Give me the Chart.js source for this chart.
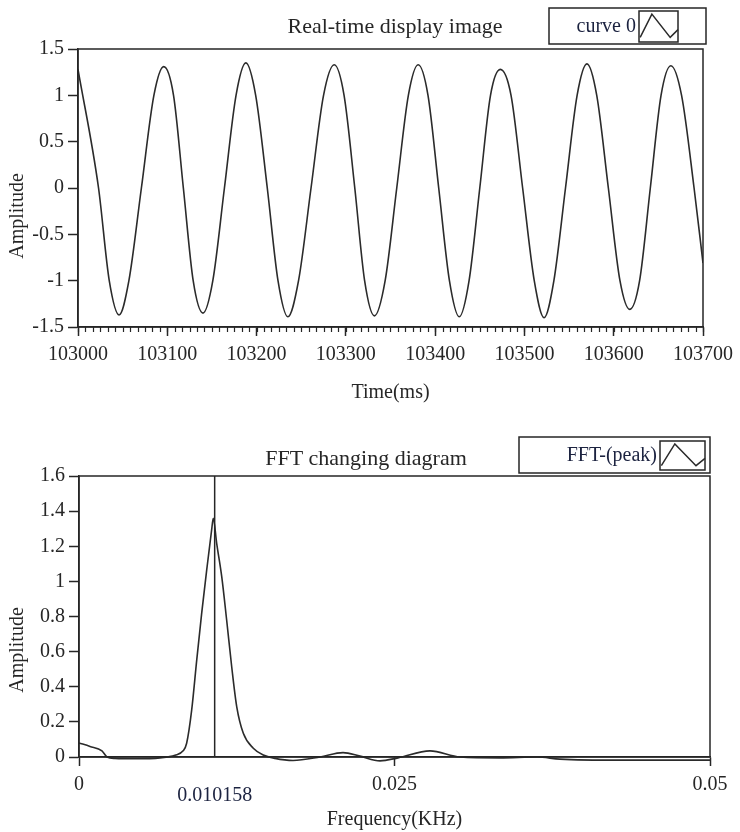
<!DOCTYPE html>
<html>
<head>
<meta charset="utf-8">
<script src="https://cdn.jsdelivr.net/npm/chart.js@4.4.0/dist/chart.umd.min.js"></script>
<style>
  html, body { margin: 0; padding: 0; background: #fff; }
  .box { position: absolute; left: 0; width: 740px; }
  #wave-box { top: 0; height: 420px; }
  #fft-box { top: 420px; height: 412px; }
</style>
</head>
<body>
<div class="box" id="wave-box"><canvas id="waveChart" width="740" height="420"></canvas></div>
<div class="box" id="fft-box"><canvas id="fftChart" width="740" height="412"></canvas></div>
<script>
// Real-time signal (extremes, +-1 crossings, zero crossings)
const waveTime = [103000, 103023, 103035, 103046, 103057, 103071, 103085, 103096, 103107,
    103118, 103129, 103140, 103151, 103164, 103177, 103188, 103199, 103212, 103224,
    103235, 103247, 103261, 103275, 103287, 103298, 103310, 103321, 103332, 103344,
    103357, 103370, 103381, 103392, 103404, 103416, 103427, 103438, 103450, 103462,
    103473, 103485, 103498, 103511, 103522, 103533, 103546, 103559, 103570, 103581,
    103594, 103607, 103618, 103629, 103641, 103653, 103664, 103676, 103690, 103700];
const waveAmp = [1.28, 0, -1.0, -1.37, -1.0, 0, 1.0, 1.31, 1.0,
    0, -1.0, -1.35, -1.0, 0, 1.0, 1.35, 1.0, 0, -1.0,
    -1.39, -1.0, 0, 1.0, 1.33, 1.0, 0, -1.0, -1.38, -1.0,
    0, 1.0, 1.33, 1.0, 0, -1.0, -1.39, -1.0, 0, 1.0,
    1.28, 1.0, 0, -1.0, -1.40, -1.0, 0, 1.0, 1.34, 1.0,
    0, -1.0, -1.31, -1.0, 0, 1.0, 1.32, 1.0, 0, -0.81];
const waveXTicks = [103000, 103100, 103200, 103300, 103400, 103500, 103600, 103700];
const waveYTicks = [-1.5, -1, -0.5, 0, 0.5, 1, 1.5];

// FFT spectrum
const fftFreq = [0, 0.00087, 0.00182, 0.00222, 0.00285, 0.00444, 0.00642, 0.00761, 0.00825,
    0.00853, 0.00893, 0.00933, 0.00972, 0.01012, 0.01051, 0.01064, 0.01091, 0.01131,
    0.0117, 0.0121, 0.0125, 0.01302, 0.01381, 0.0146, 0.01553, 0.01696, 0.0191,
    0.02092, 0.02227, 0.02385, 0.02528, 0.02781, 0.03019, 0.03336, 0.03629, 0.03811,
    0.04287, 0.05];
const fftAmp = [0.08, 0.06, 0.035, 0, -0.008, -0.01, -0.005, 0.01, 0.035,
    0.078, 0.268, 0.553, 0.818, 1.065, 1.293, 1.359, 1.217, 1.027,
    0.78, 0.514, 0.286, 0.135, 0.05, 0.011, -0.008, -0.02, 0,
    0.025, 0.005, -0.022, -0.005, 0.035, 0, -0.005, 0, -0.012,
    -0.018, -0.018];
const fftXTicks = [0, 0.025, 0.05];
const fftYTicks = [0, 0.2, 0.4, 0.6, 0.8, 1, 1.2, 1.4, 1.6];
const peakFreq = 0.01075;
const peakLabel = '0.010158';

const ink = '#262626';
const serif = '"Liberation Serif", "DejaVu Serif", serif';
Chart.defaults.font.family = serif;
Chart.defaults.font.size = 20;
Chart.defaults.color = ink;

// frame, titles, legend box, minor ticks and peak marker
const decor = {
    id: 'decor',
    afterDraw(chart, args, o) {
        const ctx = chart.ctx;
        const a = chart.chartArea;
        const ds = chart.data.datasets[0];
        ctx.save();
        ctx.strokeStyle = ink;
        ctx.lineWidth = 1.5;
        ctx.strokeRect(a.left, a.top, a.right - a.left, a.bottom - a.top);

        ctx.fillStyle = ink;
        ctx.textAlign = 'center';
        ctx.textBaseline = 'middle';
        ctx.font = '22px ' + serif;
        ctx.fillText(o.title, o.titleX, o.titleY);

        ctx.font = '20px ' + serif;
        ctx.save();
        ctx.translate(o.yTitleX, o.yTitleY);
        ctx.rotate(-Math.PI / 2);
        ctx.fillText('Amplitude', 0, 0);
        ctx.restore();

        // legend
        const L = o.legend;
        ctx.strokeRect(L.x, L.y, L.w, L.h);
        ctx.strokeRect(L.ix, L.iy, L.iw, L.ih);
        ctx.beginPath();
        [[0.03, 0.85], [0.33, 0.1], [0.8, 0.85], [1, 0.6]].forEach(function(p, i) {
            const px = L.ix + p[0] * L.iw, py = L.iy + p[1] * L.ih;
            if (i === 0) ctx.moveTo(px, py); else ctx.lineTo(px, py);
        });
        ctx.strokeStyle = ds.borderColor;
        ctx.stroke();
        ctx.fillStyle = '#1c2340';
        ctx.textAlign = 'right';
        ctx.fillText(ds.label, L.ix - 3, L.y + L.h / 2 + 1);

        const x = chart.scales.x;
        ctx.strokeStyle = ink;
        if (o.minorStep) {
            ctx.lineWidth = 1.2;
            ctx.beginPath();
            for (let v = x.min; v <= x.max + 0.001; v += o.minorStep) {
                const px = Math.round(x.getPixelForValue(v)) + 0.5;
                ctx.moveTo(px, a.bottom);
                ctx.lineTo(px, a.bottom + 5);
            }
            ctx.stroke();
        }
        if (o.marker !== undefined) {
            const px = x.getPixelForValue(o.marker);
            ctx.lineWidth = 1.5;
            ctx.beginPath();
            ctx.moveTo(px, a.top);
            ctx.lineTo(px, a.bottom);
            ctx.stroke();
            ctx.fillStyle = '#1c2340';
            ctx.textAlign = 'center';
            ctx.fillText(o.markerLabel, px, o.markerY);
        }
        ctx.restore();
    }
};

function axisX(min, max, tickValues, title, height, titlePad) {
    return {
        type: 'linear', min: min, max: max,
        afterBuildTicks: function(s) { s.ticks = tickValues.map(v => ({ value: v })); },
        afterFit: function(s) { s.height = height; },
        ticks: { padding: 7, maxRotation: 0, autoSkip: false, callback: v => String(v) },
        grid: { drawOnChartArea: false, tickLength: 9, tickColor: ink, tickWidth: 1.5 },
        border: { color: ink, width: 1.5 },
        title: { display: true, text: title, padding: { top: 0, bottom: titlePad } }
    };
}

function axisY(min, max, tickValues, width) {
    return {
        min: min, max: max,
        afterBuildTicks: function(s) { s.ticks = tickValues.map(v => ({ value: v })); },
        afterFit: function(s) { s.width = width; },
        ticks: { padding: 4, callback: v => String(v) },
        grid: { drawOnChartArea: false, tickLength: 10, tickColor: ink, tickWidth: 1.5 },
        border: { color: ink, width: 1.5 }
    };
}

new Chart(document.getElementById('waveChart'), {
    type: 'line',
    data: {
        datasets: [{
            label: 'curve 0',
            data: waveTime.map((t, i) => ({ x: t, y: waveAmp[i] })),
            borderColor: '#2b2b2b',
            borderWidth: 1.6,
            pointRadius: 0,
            cubicInterpolationMode: 'monotone',
            fill: false
        }]
    },
    options: {
        responsive: false,
        animation: false,
        layout: { padding: { top: 49, right: 34, bottom: 0, left: 0 } },
        plugins: {
            legend: { display: false },
            tooltip: { enabled: false },
            decor: {
                title: 'Real-time display image', titleX: 395, titleY: 27,
                yTitleX: 18, yTitleY: 216,
                legend: { x: 549, y: 8, w: 157, h: 36, ix: 639, iy: 11, iw: 39, ih: 31 },
                minorStep: 100 / 12
            }
        },
        scales: {
            x: axisX(103000, 103700, waveXTicks, 'Time(ms)', 93, 15),
            y: axisY(-1.5, 1.5, waveYTicks, 78)
        }
    },
    plugins: [decor]
});

new Chart(document.getElementById('fftChart'), {
    type: 'line',
    data: {
        datasets: [{
            label: 'FFT-(peak)',
            data: fftFreq.map((f, i) => ({ x: f, y: fftAmp[i] })),
            borderColor: '#2b2b2b',
            borderWidth: 1.6,
            pointRadius: 0,
            cubicInterpolationMode: 'monotone',
            fill: false,
            clip: false
        }]
    },
    options: {
        responsive: false,
        animation: false,
        layout: { padding: { top: 56, right: 30, bottom: 0, left: 0 } },
        plugins: {
            legend: { display: false },
            tooltip: { enabled: false },
            decor: {
                title: 'FFT changing diagram', titleX: 366, titleY: 39,
                yTitleX: 18, yTitleY: 230,
                legend: { x: 519, y: 17, w: 191, h: 36, ix: 660, iy: 21, iw: 45, ih: 29 },
                marker: peakFreq, markerLabel: peakLabel, markerY: 376
            }
        },
        scales: {
            x: axisX(0, 0.05, fftXTicks, 'Frequency(KHz)', 75, 0),
            y: axisY(0, 1.6, fftYTicks, 79)
        }
    },
    plugins: [decor]
});
</script>
</body>
</html>
